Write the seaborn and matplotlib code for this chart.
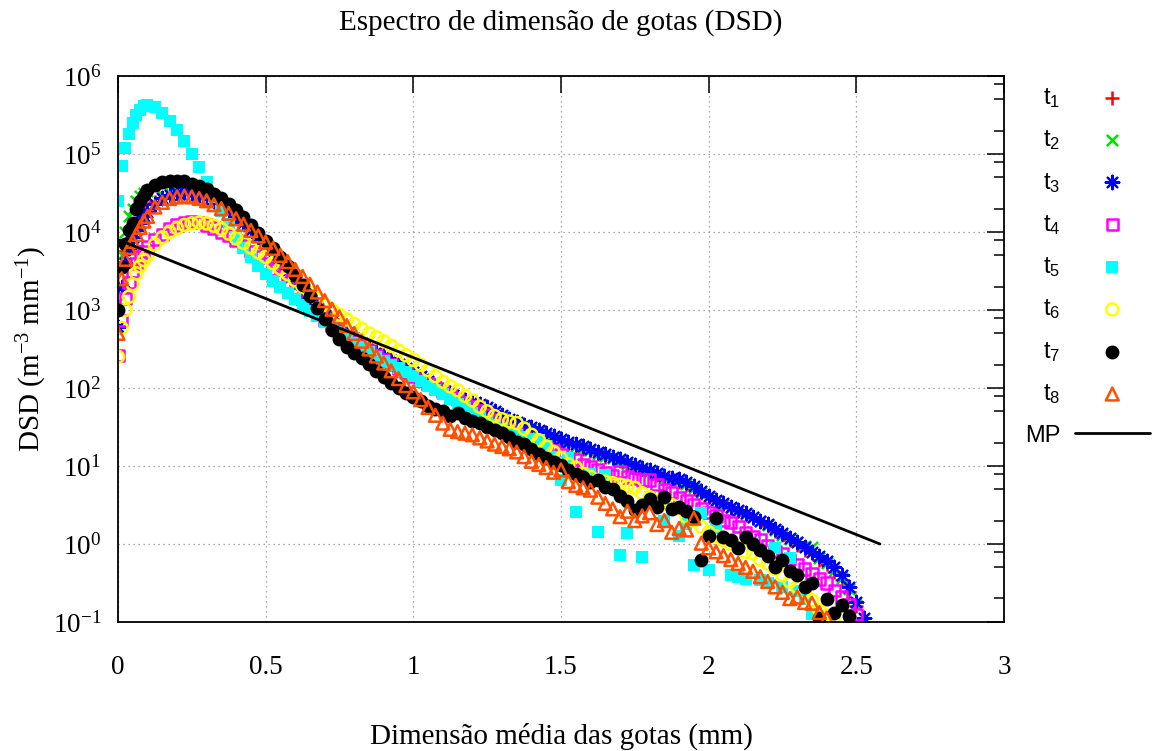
import numpy as np
import matplotlib
matplotlib.use("Agg")
import matplotlib.pyplot as plt
import seaborn as sns
from matplotlib.ticker import FixedLocator, FuncFormatter, LogLocator, NullFormatter

nan = float("nan")

# Mean drop diameter (mm) of each size class
diam = [
    0.0, 0.0125, 0.025, 0.0375, 0.05, 0.0625, 0.075, 0.0875, 0.1,
    0.125, 0.15, 0.175, 0.2, 0.225, 0.25, 0.275, 0.3,
    0.325, 0.35, 0.375, 0.4, 0.425, 0.45, 0.475, 0.5,
    0.525, 0.55, 0.575, 0.6, 0.625, 0.65, 0.675, 0.7,
    0.725, 0.75, 0.775, 0.8, 0.825, 0.85, 0.875, 0.9,
    0.925, 0.95, 0.975, 1.0, 1.025, 1.05, 1.075, 1.1,
    1.125, 1.15, 1.175, 1.2, 1.225, 1.25, 1.275, 1.3,
    1.325, 1.35, 1.375, 1.4, 1.425, 1.45, 1.475, 1.5,
    1.525, 1.55, 1.575, 1.6, 1.625, 1.65, 1.675, 1.7,
    1.725, 1.75, 1.775, 1.8, 1.825, 1.85, 1.875, 1.9,
    1.925, 1.95, 1.975, 2.0, 2.025, 2.05, 2.075, 2.1,
    2.125, 2.15, 2.175, 2.2, 2.225, 2.25, 2.275, 2.3,
    2.325, 2.35, 2.375, 2.4, 2.425, 2.45, 2.475, 2.5,
    2.525,
]

# log10 of the drop size distribution N(D) (m^-3 mm^-1) at each instant
t1_log = [
    3.30, 3.55, 3.75, 3.90, 4.00, 4.10, 4.18, 4.25, 4.30,
    4.38, 4.44, 4.48, 4.50, 4.50, 4.49, 4.47, 4.43,
    4.38, 4.32, 4.25, 4.18, 4.10, 4.02, 3.94, 3.85,
    3.74, 3.64, 3.53, 3.42, 3.30, 3.19, 3.08, 2.98,
    2.89, 2.81, 2.74, 2.67, 2.60, 2.54, 2.48, 2.43,
    2.37, 2.31, 2.25, 2.19, 2.13, 2.07, 2.01, 1.95,
    1.90, 1.86, 1.82, 1.79, 1.76, 1.72, 1.67, 1.62,
    1.57, 1.53, 1.50, 1.47, 1.43, 1.39, 1.35, 1.32,
    1.28, 1.25, 1.22, 1.19, 1.15, 1.12, 1.09, 1.06,
    1.03, 0.97, 0.96, 0.91, 0.89, 0.84, 0.83, 0.79,
    0.76, 0.71, 0.66, 0.60, 0.55, 0.50, 0.46, 0.42,
    0.37, 0.33, 0.29, 0.23, 0.17, 0.11, 0.05, -0.01,
    -0.08, -0.12, -0.20, -0.26, -0.36, -0.46, -0.62, -0.80,
    nan,
]
t2_log = [
    3.10, 3.70, 4.00, 4.20, 4.30, 4.40, 4.46, 4.50, 4.53,
    4.57, 4.60, 4.61, 4.60, 4.58, 4.55, 4.52, 4.48,
    4.43, 4.37, 4.30, 4.22, 4.13, 4.03, 3.93, 3.82,
    3.70, 3.58, 3.45, 3.30, 3.18, 3.08, 2.98, 2.90,
    2.82, 2.75, 2.69, 2.62, 2.56, 2.50, 2.45, 2.40,
    2.35, 2.30, 2.24, 2.18, 2.12, 2.06, 2.00, 1.94,
    1.90, 1.86, 1.82, 1.79, 1.76, 1.72, 1.68, 1.63,
    1.58, 1.54, 1.51, 1.48, 1.44, 1.40, 1.36, 1.33,
    1.29, 1.26, 1.23, 1.20, 1.16, 1.13, 1.10, 1.07,
    1.03, 0.99, 0.96, 0.93, 0.89, 0.85, 0.83, 0.81,
    0.77, 0.72, 0.66, 0.60, 0.55, 0.50, 0.46, 0.42,
    0.38, 0.34, 0.29, 0.24, 0.18, 0.12, 0.07, 0.02,
    -0.02, -0.04, -0.18, -0.25, -0.34, -0.44, -0.58, -0.78,
    nan,
]
t3_log = [
    2.78, 3.30, 3.60, 3.80, 3.93, 4.03, 4.12, 4.20, 4.26,
    4.36, 4.43, 4.48, 4.50, 4.51, 4.50, 4.48, 4.45,
    4.40, 4.34, 4.27, 4.19, 4.11, 4.02, 3.93, 3.83,
    3.73, 3.62, 3.51, 3.39, 3.27, 3.15, 3.04, 2.94,
    2.86, 2.78, 2.71, 2.64, 2.58, 2.52, 2.46, 2.41,
    2.36, 2.31, 2.26, 2.21, 2.15, 2.09, 2.03, 1.97,
    1.93, 1.89, 1.85, 1.82, 1.79, 1.75, 1.70, 1.65,
    1.60, 1.56, 1.53, 1.50, 1.46, 1.42, 1.38, 1.35,
    1.31, 1.28, 1.25, 1.22, 1.18, 1.15, 1.12, 1.09,
    1.05, 1.01, 0.98, 0.95, 0.91, 0.87, 0.85, 0.83,
    0.79, 0.74, 0.68, 0.62, 0.57, 0.52, 0.48, 0.44,
    0.40, 0.35, 0.30, 0.25, 0.19, 0.14, 0.08, 0.03,
    -0.04, -0.10, -0.15, -0.22, -0.30, -0.40, -0.55, -0.75,
    -0.95,
]
t4_log = [
    2.42, 2.87, 3.15, 3.35, 3.50, 3.60, 3.68, 3.75, 3.81,
    3.90, 3.97, 4.04, 4.09, 4.12, 4.13, 4.12, 4.09,
    4.05, 4.00, 3.95, 3.89, 3.82, 3.75, 3.68, 3.60,
    3.52, 3.43, 3.34, 3.24, 3.14, 3.04, 2.95, 2.87,
    2.80, 2.73, 2.67, 2.60, 2.54, 2.48, 2.42, 2.36,
    2.30, 2.25, 2.20, 2.15, 2.10, 2.05, 2.00, 1.96,
    1.91, 1.86, 1.81, 1.76, 1.71, 1.66, 1.60, 1.53,
    1.47, 1.41, 1.37, 1.34, 1.30, 1.23, 1.20, 1.15,
    1.10, 1.08, 1.02, 0.99, 0.95, 0.92, 0.88, 0.93,
    0.86, 0.84, 0.82, 0.82, 0.76, 0.70, 0.66, 0.60,
    0.56, 0.50, 0.45, 0.40, 0.36, 0.30, 0.28, 0.22,
    0.15, 0.10, 0.05, -0.02, -0.10, -0.12, -0.20, -0.26,
    -0.32, -0.38, -0.45, -0.50, -0.60, -0.68, -0.78, -0.90,
    nan,
]
t5_log = [
    4.40, 4.85, 5.08, 5.25, 5.40, 5.50, 5.57, 5.61, 5.63,
    5.60, 5.52, 5.42, 5.31, 5.17, 5.00, 4.83, 4.64,
    4.45, 4.27, 4.10, 3.94, 3.80, 3.68, 3.56, 3.46,
    3.37, 3.29, 3.22, 3.14, 3.06, 2.99, 2.92, 2.85,
    2.78, 2.72, 2.65, 2.58, 2.52, 2.46, 2.40, 2.35,
    2.30, 2.26, 2.20, 2.15, 2.09, 2.03, 1.97, 1.92,
    1.86, 1.80, 1.74, 1.68, 1.62, 1.57, 1.52, 1.47,
    1.43, 1.40, 1.37, 1.35, 1.33, 1.25, 1.12, 0.82,
    1.10, 0.41, nan, 0.90, 0.15, 0.88, nan, -0.14,
    0.14, nan, -0.17, 0.60, nan, 0.30, 0.45, 0.10,
    0.25, -0.27, 0.40, -0.33, 0.20, nan, -0.40, -0.42,
    -0.45, 0.00, -0.46, -0.50, -0.05, -0.55, -0.18, -0.60,
    -0.70, -0.90, nan, nan, nan, nan, nan, nan,
    nan,
]
t6_log = [
    2.40, 2.77, 3.00, 3.17, 3.33, 3.47, 3.56, 3.64, 3.70,
    3.84, 3.93, 4.00, 4.05, 4.09, 4.11, 4.12, 4.11,
    4.08, 4.04, 3.98, 3.92, 3.86, 3.80, 3.74, 3.68,
    3.60, 3.53, 3.46, 3.38, 3.30, 3.22, 3.14, 3.07,
    3.00, 2.94, 2.88, 2.82, 2.76, 2.70, 2.65, 2.60,
    2.54, 2.48, 2.42, 2.36, 2.30, 2.23, 2.15, 2.08,
    2.02, 1.97, 1.90, 1.84, 1.76, 1.70, 1.64, 1.60,
    1.57, 1.55, 1.48, 1.40, 1.33, 1.25, 1.18, 1.10,
    1.02, 0.98, 0.90, 0.86, 0.82, 0.80, 0.78, 0.76,
    0.74, 0.72, 0.65, 0.60, 0.55, 0.52, 0.50, 0.46,
    0.35, 0.30, 0.22, 0.15, 0.10, 0.05, 0.00, -0.05,
    -0.10, -0.12, -0.20, -0.25, -0.32, -0.40, -0.48, -0.55,
    -0.62, -0.72, -0.85, -0.92, -0.97, nan, nan, nan,
    nan,
]
t7_log = [
    3.00, 3.55, 3.85, 4.02, 4.12, 4.30, 4.40, 4.48, 4.54,
    4.60, 4.64, 4.66, 4.66, 4.65, 4.62, 4.59, 4.55,
    4.49, 4.43, 4.36, 4.28, 4.19, 4.09, 3.99, 3.89,
    3.79, 3.68, 3.57, 3.45, 3.32, 3.18, 3.03, 2.88,
    2.74, 2.63, 2.53, 2.45, 2.38, 2.31, 2.22, 2.14,
    2.06, 2.00, 1.93, 1.89, 1.83, 1.77, 1.73, 1.70,
    1.64, 1.68, 1.61, 1.58, 1.55, 1.50, 1.46, 1.42,
    1.37, 1.31, 1.28, 1.22, 1.16, 1.10, 1.05, 1.01,
    0.95, 0.90, 0.86, 0.80, 0.82, 0.73, 0.70, 0.62,
    0.55, 0.44, 0.50, 0.58, 0.48, 0.60, 0.45, 0.48,
    0.42, 0.35, -0.20, 0.10, 0.33, 0.09, 0.05, -0.05,
    0.09, 0.00, -0.08, -0.15, -0.30, -0.20, -0.35, -0.40,
    -0.55, -0.50, -0.95, -0.70, -0.88, -0.78, -0.92, nan,
    nan,
]
t8_log = [
    2.70, 3.40, 3.65, 3.80, 3.88, 3.97, 4.06, 4.14, 4.20,
    4.32, 4.38, 4.43, 4.45, 4.46, 4.45, 4.43, 4.40,
    4.35, 4.30, 4.24, 4.17, 4.10, 4.02, 3.95, 3.87,
    3.79, 3.70, 3.62, 3.52, 3.43, 3.33, 3.23, 3.12,
    3.01, 2.91, 2.80, 2.70, 2.60, 2.50, 2.41, 2.32,
    2.22, 2.12, 2.03, 1.95, 1.85, 1.75, 1.65, 1.55,
    1.47, 1.44, 1.42, 1.40, 1.36, 1.32, 1.28, 1.25,
    1.22, 1.18, 1.12, 1.06, 1.02, 0.98, 0.92, 0.95,
    0.80, 0.75, 0.72, 0.69, 0.60, 0.52, 0.45, 0.35,
    0.42, 0.30, 0.36, 0.40, 0.25, 0.30, 0.15, 0.20,
    0.18, 0.33, 0.01, -0.05, -0.10, -0.15, -0.20, -0.25,
    -0.30, -0.35, -0.42, -0.48, -0.55, -0.62, -0.70, -0.68,
    -0.75, -0.76, -0.88, -0.95, nan, nan, nan, nan,
    nan,
]

# Marshall-Palmer reference distribution (end points of the straight line in log scale)
mp_diam = [0.0, 2.58]
mp_dsd = [8.0e3, 1.0]

series_labels = ["t$_1$", "t$_2$", "t$_3$", "t$_4$", "t$_5$", "t$_6$", "t$_7$", "t$_8$"]
series_logs = [t1_log, t2_log, t3_log, t4_log, t5_log, t6_log, t7_log, t8_log]
series_colors = ["#ff0000", "#00e000", "#0000ff", "#ff00ff",
                 "#00ffff", "#ffff00", "#000000", "#ff5000"]

x_ticks = [0, 0.5, 1, 1.5, 2, 2.5, 3]

sns.set_theme(style="white")
plt.rcParams["font.family"] = ["Liberation Serif", "DejaVu Serif"]
plt.rcParams["mathtext.default"] = "regular"
plt.rcParams["text.color"] = "black"
plt.rcParams["axes.labelcolor"] = "black"
plt.rcParams["xtick.color"] = "black"
plt.rcParams["ytick.color"] = "black"

fig = plt.figure(figsize=(11.52, 7.51), dpi=100)
ax = fig.add_axes([0.1024, 0.1718, 0.7691, 0.7270])

marker_styles = [
    dict(marker="+", s=95, linewidth=1.8),
    dict(marker="x", s=65, linewidth=1.8),
    dict(marker=(8, 2, 0), s=95, linewidth=1.6),
    dict(marker="s", s=65, facecolor="none", linewidth=1.8),
    dict(marker="s", s=80, linewidth=0),
    dict(marker="o", s=75, facecolor="none", linewidth=1.8),
    dict(marker="o", s=100, linewidth=0),
    dict(marker="^", s=85, facecolor="none", linewidth=1.8),
]

for label, logs, color, style in zip(series_labels, series_logs, series_colors, marker_styles):
    dsd = np.power(10.0, np.asarray(logs, dtype=float))
    kw = dict(style)
    if kw["marker"] not in ("+", "x", (8, 2, 0)):
        kw["edgecolor"] = color
    sns.scatterplot(x=diam, y=dsd, ax=ax, color=color, label=label, zorder=3,
                    clip_on=True, **kw)

sns.lineplot(x=mp_diam, y=mp_dsd, ax=ax, color="black", linewidth=2.0,
             label="MP", zorder=4)

ax.set_yscale("log")
ax.set_xlim(0, 3)
ax.set_ylim(0.1, 1e6)

ax.xaxis.set_major_locator(FixedLocator(x_ticks))
ax.xaxis.set_major_formatter(FuncFormatter(lambda v, p: f"{v:g}"))
ax.yaxis.set_major_locator(LogLocator(base=10, numticks=20))
ax.yaxis.set_major_formatter(
    FuncFormatter(lambda v, p: f"$10^{{{int(round(np.log10(v)))}}}$"))
ax.yaxis.set_minor_locator(LogLocator(base=10, subs=(2.0, 5.0, 8.0), numticks=20))
ax.yaxis.set_minor_formatter(NullFormatter())

ax.tick_params(which="both", direction="in", top=True, right=True,
               colors="black", width=1.1, labelsize=19.5)
ax.tick_params(which="major", length=12)
ax.tick_params(which="minor", length=7)
ax.tick_params(axis="x", pad=24)
ax.tick_params(axis="y", pad=12)

ax.grid(True, which="major", linestyle=(0, (1, 3)), color="#8c8c8c", linewidth=0.9)
ax.grid(False, which="minor")
for spine in ax.spines.values():
    spine.set_color("black")
    spine.set_linewidth(1.3)
    spine.set_zorder(5)

ax.set_title("Espectro de dimensão de gotas (DSD)", fontsize=21, pad=33, color="black")
ax.set_xlabel("Dimensão média das gotas (mm)", fontsize=21)
ax.set_ylabel("DSD (m$^{-3}$ mm$^{-1}$)", fontsize=21)
ax.xaxis.set_label_coords(0.5, -0.185)
ax.yaxis.set_label_coords(-0.078, 0.5)

leg = ax.legend(loc="upper left", bbox_to_anchor=(1025 / 1152, 1 - 86 / 751),
                bbox_transform=fig.transFigure, frameon=False, markerfirst=False,
                handlelength=3.2, handletextpad=0.6, labelspacing=0.78,
                borderpad=0, borderaxespad=0,
                prop={"family": "Liberation Sans", "size": 17})
for txt in leg.get_texts():
    txt.set_color("black")

fig.savefig("out.png", dpi=100)
